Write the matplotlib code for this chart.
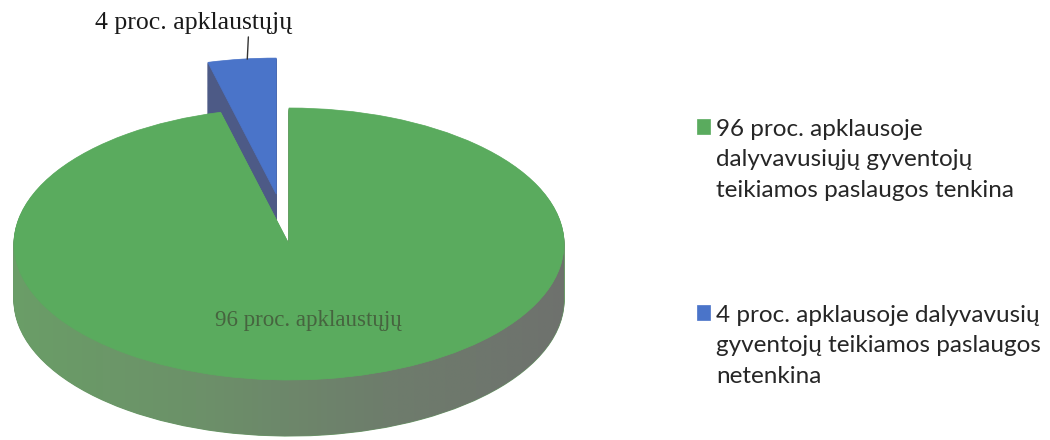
import numpy as np
import matplotlib
matplotlib.use('Agg')
import matplotlib.pyplot as plt
from matplotlib.path import Path
from matplotlib.patches import PathPatch
from matplotlib.colors import LinearSegmentedColormap

# ---- data ----
legend_labels = ['96 proc. apklausoje\ndalyvavusiųjų gyventojų\nteikiamos paslaugos tenkina',
                 '4 proc. apklausoje dalyvavusių\ngyventojų teikiamos paslaugos\nnetenkina']
values = [4, 96]                       # blue slice first (starts at 12 o'clock)
data_labels = ['4 proc. apklaustųjų', '96 proc. apklaustųjų']
explode = [0.37, 0.0]

top_colors = ['#4a74c9', '#5aab5e']
side_colors = ['#4d5a86', '#6b9a68']

W, H = 1050, 440
fig = plt.figure(figsize=(W / 100, H / 100), dpi=100)
ax = fig.add_axes([0, 0, 600 / W, 1])

cx, cy, rx, ry = 289, 196, 275, 136     # pixel geometry of the top ellipse
depth = 56 / ry
N = 60

common = dict(explode=explode, startangle=90, counterclock=True, frame=False,
              radius=1.0)

# extruded sides (stack of shifted pies)
for k in range(N, 0, -1):
    ws, _ = ax.pie(values, center=(0, -depth * k / N), colors=side_colors,
                   wedgeprops=dict(linewidth=0.8, edgecolor='none'), **common)
    for w, c in zip(ws, side_colors):
        w.set_edgecolor(c)
        w.set_zorder(1)

# horizontal gradient on the front rim of the large slice
t = np.linspace(np.pi, 2 * np.pi, 200)
xs = np.concatenate([np.cos(t), np.cos(t[::-1])])
ys = np.concatenate([np.sin(t), np.sin(t[::-1]) - depth])
band = PathPatch(Path(np.column_stack([xs, ys])), facecolor='none', edgecolor='none')
ax.add_patch(band)
cmap = LinearSegmentedColormap.from_list('rim', ['#6a9e67', '#6c9169', '#6e7d6c', '#6e716e'])
grad = np.linspace(0, 1, 256).reshape(1, -1)
im = ax.imshow(grad, cmap=cmap, extent=(-1.02, 1.02, -1.5, 0.1), aspect='auto',
               zorder=1.5, interpolation='bilinear')
im.set_clip_path(band)

# top faces
wedges, texts = ax.pie(values, center=(0, 0), colors=top_colors,
                       labels=['', data_labels[1]], labeldistance=0.565,
                       textprops=dict(ha='center', va='center', fontsize=16.5,
                                      family='Liberation Serif', color='#46643f'),
                       wedgeprops=dict(linewidth=0), **common)
for w in wedges:
    w.set_zorder(2)
    w.set_edgecolor(w.get_facecolor())
    w.set_linewidth(0.5)
for tx in texts:
    tx.set_zorder(5)

# label of the small exploded slice
mid = np.deg2rad(90 + 360 * values[0] / sum(values) / 2)
px = (1 + explode[0]) * np.cos(mid) + 0.02
py = (1 + explode[0]) * np.sin(mid)
ax.annotate(data_labels[0], xy=(px, py), xytext=(-54, 36), textcoords='offset pixels',
            ha='center', va='center', fontsize=18.5, family='Liberation Serif',
            color='#1a1a1a', zorder=6,
            arrowprops=dict(arrowstyle='-', color='#333333', lw=1.0,
                            shrinkA=0, shrinkB=0, relpos=(0.78, 0.0)))

ax.set_aspect('auto')
ax.set_xlim(-cx / rx, (600 - cx) / rx)
ax.set_ylim(-cy / ry, (H - cy) / ry)
ax.axis('off')

leg = fig.legend(handles=[wedges[1], wedges[0]], labels=legend_labels,
                 loc='upper left', bbox_to_anchor=(675 / W, 1 - 97 / H),
                 frameon=False, handlelength=0.55, handleheight=0.55,
                 handletextpad=0.25, labelspacing=4.3,
                 prop=dict(family='Lato', size=17.5))
for txt in leg.get_texts():
    txt.set_color('#262626')
    txt.set_linespacing(1.55)
# align each marker with the first line of its (multi-line) label
for col in leg._legend_handle_box.get_children():
    for row in col.get_children():
        row.align = 'top'

fig.savefig('out.png', dpi=100)
